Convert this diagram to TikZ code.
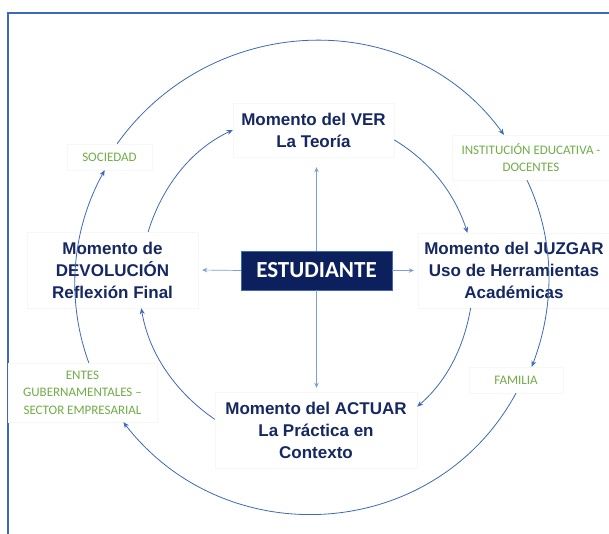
\documentclass[tikz,border=0pt]{standalone}
\usepackage{fontspec}
\setmainfont{Liberation Sans}
\newfontfamily\calibrifont{Carlito}
\usetikzlibrary{arrows.meta}
\definecolor{navy}{RGB}{22,40,98}
\definecolor{boxblue}{RGB}{12,32,94}
\definecolor{lineblue}{RGB}{62,104,186}
\definecolor{lightblue}{RGB}{125,158,215}
\definecolor{leafgreen}{RGB}{112,173,71}
\begin{document}
\begin{tikzpicture}[x=1pt,y=1pt,
  momento/.style={draw=black!3, fill=white, text=navy, align=center, inner sep=0pt,
    font=\fontsize{17}{22}\selectfont\bfseries},
  actor/.style={draw=black!3, fill=white, text=leafgreen, align=center, inner sep=0pt,
    font=\calibrifont\fontsize{13}{17.5}\selectfont},
  ciclo/.style={draw=lineblue, line width=0.8pt, -{Stealth[length=6pt,width=5pt]}},
  rayo/.style={draw=lightblue, line width=0.7pt, -{Stealth[length=5pt,width=4.5pt]}}]
      \useasboundingbox (0,0) rectangle (609,534);
      \draw[lineblue, line width=1.2pt] (8,0) -- (8,521) -- (609,521);
      \node[name=est, fill=boxblue, draw=lineblue, text=white, minimum width=151, minimum height=39,
        font=\calibrifont\bfseries\fontsize{23}{27}\selectfont] at (316.5,263.5) {ESTUDIANTE};
      \node[name=ver, momento, minimum width=161, minimum height=54] at (313.5,404) {Momento del VER\\La Teoría};
      \node[name=dev, momento, minimum width=171, minimum height=76] at (112.5,264) {Momento de\\DEVOLUCIÓN\\Reflexión Final};
      \node[name=juz, momento, minimum width=192, minimum height=75] at (514,263.5) {Momento del JUZGAR\\Uso de Herramientas\\Académicas};
      \node[name=act, momento, minimum width=202, minimum height=76] at (316,104) {Momento del ACTUAR\\La Práctica en\\Contexto};
      \node[name=soc, actor, minimum width=85, minimum height=26] at (109.5,377) {SOCIEDAD};
      \node[name=inst, actor, minimum width=157, minimum height=45] at (531,376.5) {INSTITUCIÓN EDUCATIVA -\\DOCENTES};
      \node[name=fam, actor, minimum width=94, minimum height=26] at (516,154) {FAMILIA};
      \node[name=ent, actor, minimum width=149, minimum height=59] at (82.5,141.5) {ENTES\\GUBERNAMENTALES –\\SECTOR EMPRESARIAL};
      \draw[rayo, shorten >=10pt] (est.north) -- (est.north |- ver.south);
      \draw[rayo, shorten >=4pt] (est.south) -- (est.south |- act.north);
      \draw[rayo, shorten >=4pt] (est.west) -- (dev.east);
      \draw[rayo, shorten >=4pt] (est.east) -- (juz.west);
      \draw[ciclo] (ent.78) to[out=110, in=241, looseness=0.9] (soc.250);
      \draw[ciclo] (soc.60) to[out=54.5, in=126, looseness=1.07] (inst.140);
      \draw[ciclo] (inst.260) to[out=-64.6, in=69.1, looseness=0.9] (fam.40);
      \draw[ciclo] (fam.south) to[out=-118.5, in=-52.2, looseness=1.1] (ent.-36);
      \draw[ciclo] (dev.47) to[out=72.8, in=205, looseness=0.9] (ver.west);
      \draw[ciclo] (ver.-7) to[out=-31, in=107.9, looseness=0.9] (juz.141);
      \draw[ciclo] (juz.221) to[out=-99.9, in=40.8, looseness=0.9] (act.13);
      \draw[ciclo] (act.174) to[out=145.5, in=279.5, looseness=0.9] (dev.-53);
   \end{tikzpicture}
\end{document}
